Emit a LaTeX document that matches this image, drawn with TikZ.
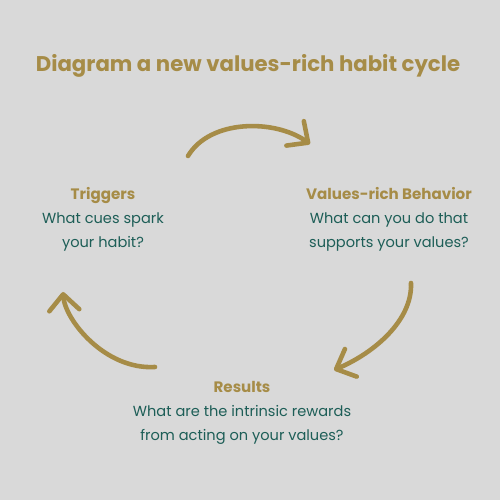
\documentclass[tikz,border=0pt]{standalone}
\usepackage{fontspec}
\setmainfont{Poppins}
\usetikzlibrary{arrows.meta}
\definecolor{bggray}{HTML}{D9D9D9}
\definecolor{habitgold}{HTML}{A68C47}
\definecolor{habitteal}{HTML}{1D5E57}
\newcommand{\stagename}[1]{\textcolor{habitgold}{\fontsize{8.6}{13.6}\selectfont\bfseries #1}}

\begin{document}
\begin{tikzpicture}[
  habitarrow/.style={habitgold, line width=2.6pt, line cap=round,
    -{Straight Barb[length=3.2mm,width=6mm,round]}},
  stage/.style={habitteal, align=center, font=\fontsize{8.3}{13.6}\selectfont},
  heading/.style={habitgold, font=\fontsize{12.1}{14}\selectfont\bfseries}]
  \fill[bggray] (0,0) rectangle (10,10);                          % Background
  \useasboundingbox (0,0) rectangle (10,10);

  \node[heading] (title) at (4.96,8.68) {Diagram a new values-rich habit cycle}; % Title

  \node[stage] (triggers) at (2.06,5.62) {\stagename{Triggers}\\What cues spark\\your habit?};           % Triggers text
  \node[stage] (behavior) at (7.78,5.62) {\stagename{Values-rich Behavior}\\What can you do that\\supports your values?}; % Behavior text
  \node[stage] (results)  at (4.84,1.74) {\stagename{Results}\\What are the intrinsic rewards\\from acting on your values?}; % Results text

  \coordinate (topfrom)   at (3.76,6.88);   % Ends of top arrow
  \coordinate (topto)     at (6.20,7.12);
  \coordinate (rightfrom) at (8.22,4.34);   % Ends of right arrow
  \coordinate (rightto)   at (6.68,2.60);
  \coordinate (leftfrom)  at (3.10,2.66);   % Ends of left arrow
  \coordinate (leftto)    at (1.26,4.16);

  \draw[habitarrow] (topfrom) .. controls (4.2,7.62) and (5.5,7.62) .. (topto);      % Triggers to behavior
  \draw[habitarrow] (rightfrom) .. controls (8.25,3.6) and (7.5,2.95) .. (rightto);  % Behavior to results
  \draw[habitarrow] (leftfrom) .. controls (2.1,2.6) and (1.3,3.6) .. (leftto);      % Results to triggers
\end{tikzpicture}
\end{document}
